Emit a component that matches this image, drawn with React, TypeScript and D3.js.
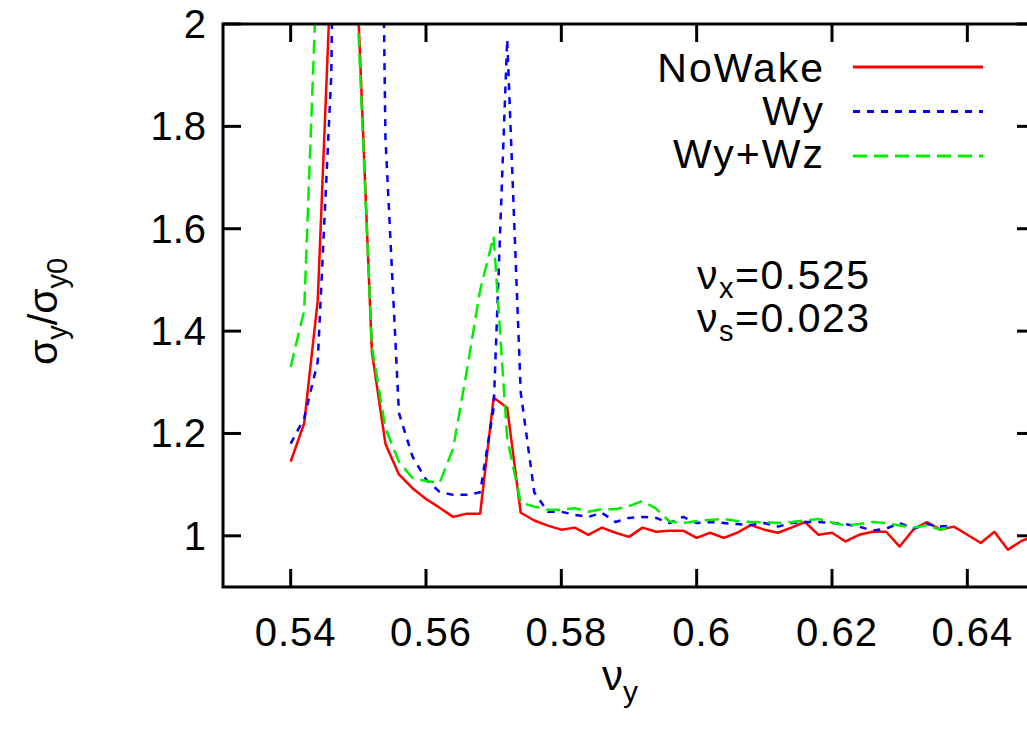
import React from 'react';
import * as d3 from 'd3';

// tune values nu_y (red series runs to 0.65, the wake runs stop at 0.638)
const nuYNoWake = [
  0.540, 0.542, 0.544, 0.546, 0.548, 0.550, 0.552, 0.554, 0.556, 0.558,
  0.560, 0.562, 0.564, 0.566, 0.568, 0.570, 0.572, 0.574, 0.576, 0.578,
  0.580, 0.582, 0.584, 0.586, 0.588, 0.590, 0.592, 0.594, 0.596, 0.598,
  0.600, 0.602, 0.604, 0.606, 0.608, 0.610, 0.612, 0.614, 0.616, 0.618,
  0.620, 0.622, 0.624, 0.626, 0.628, 0.630, 0.632, 0.634, 0.636, 0.638,
  0.640, 0.642, 0.644, 0.646, 0.648, 0.650,
];
const nuYWake = nuYNoWake.slice(0, 50);

const noWake = [
  1.145, 1.22, 1.46, 2.12, 3.5, 2.02, 1.36, 1.18, 1.12, 1.093,
  1.072, 1.055, 1.037, 1.043, 1.043, 1.27, 1.25, 1.045, 1.03, 1.02,
  1.012, 1.016, 1.002, 1.016, 1.006, 0.998, 1.016, 1.008, 1.01, 1.01,
  0.996, 1.006, 0.996, 1.006, 1.021, 1.012, 1.006, 1.016, 1.027, 1.002,
  1.006, 0.989, 1.002, 1.008, 1.008, 0.979, 1.012, 1.027, 1.012, 1.018,
  1.002, 0.986, 1.008, 0.973, 0.99, 1.0,
];
const wy = [
  1.18, 1.23, 1.34, 1.9, 4.0, 4.5, 3.9, 1.78, 1.24, 1.155,
  1.11, 1.086, 1.08, 1.08, 1.085, 1.25, 1.97, 1.28, 1.085, 1.047,
  1.047, 1.041, 1.037, 1.045, 1.027, 1.035, 1.037, 1.035, 1.025, 1.037,
  1.025, 1.027, 1.025, 1.023, 1.021, 1.025, 1.018, 1.025, 1.027, 1.027,
  1.025, 1.023, 1.018, 1.010, 1.014, 1.025, 1.014, 1.023, 1.018, 1.02,
];
const wyWz = [
  1.33, 1.44, 2.15, 3.0, 3.5, 1.99, 1.37, 1.21, 1.145, 1.113,
  1.107, 1.103, 1.17, 1.32, 1.48, 1.585, 1.19, 1.065, 1.057, 1.051,
  1.051, 1.054, 1.047, 1.052, 1.052, 1.058, 1.068, 1.053, 1.028, 1.025,
  1.029, 1.031, 1.033, 1.029, 1.027, 1.027, 1.025, 1.027, 1.03, 1.033,
  1.026, 1.02, 1.023, 1.027, 1.025, 1.02, 1.016, 1.02, 1.012, 1.02,
];

const xTicks = [0.54, 0.56, 0.58, 0.6, 0.62, 0.64];
const yTicks = [1, 1.2, 1.4, 1.6, 1.8, 2];

const seriesNames = ['NoWake', 'Wy', 'Wy+Wz'];
const seriesColors = ['#ff0000', '#0000ff', '#00ee00'];
const seriesDash = ['none', '7,7', '14,7'];

const W = 1027;
const H = 731;
const left = 223;
const right = 1035;
const top = 24;
const bottom = 587;
const font = '"Liberation Sans", Arial, Helvetica, sans-serif';
const tickLen = 18;

const App = () => {
  const x = d3.scaleLinear().domain([0.53, 0.65]).range([left, right]);
  const y = d3.scaleLinear().domain([0.9, 2]).range([bottom, top]);

  const line = d3.line<[number, number]>()
    .x(d => x(d[0]))
    .y(d => y(d[1]));

  const series = [
    d3.zip(nuYNoWake, noWake) as [number, number][],
    d3.zip(nuYWake, wy) as [number, number][],
    d3.zip(nuYWake, wyWz) as [number, number][],
  ];

  return (
    <div style={{ position: 'absolute', left: 0, top: 0, width: W, height: H, overflow: 'hidden' }}>
      <svg width={W} height={H} style={{ display: 'block', background: '#fff' }} fontFamily={font}>
        <defs>
          <clipPath id="plot-clip">
            <rect x={left} y={top} width={right - left} height={bottom - top} />
          </clipPath>
        </defs>

        {/* ticks, mirrored on all four sides */}
        <g stroke="#000" strokeWidth={3}>
          {xTicks.map(t => (
            <g key={'xt' + t}>
              <line x1={x(t)} x2={x(t)} y1={bottom} y2={bottom - tickLen} />
              <line x1={x(t)} x2={x(t)} y1={top} y2={top + tickLen} />
            </g>
          ))}
          {yTicks.map(t => (
            <g key={'yt' + t}>
              <line x1={left} x2={left + tickLen} y1={y(t)} y2={y(t)} />
              <line x1={right} x2={right - tickLen} y1={y(t)} y2={y(t)} />
            </g>
          ))}
        </g>

        {/* tick labels */}
        <g fontSize={40} fill="#000">
          {xTicks.map(t => (
            <text key={'xl' + t} x={x(t) + 5} y={646} textAnchor="middle" letterSpacing={1}>{String(t)}</text>
          ))}
          {yTicks.map(t => (
            <text key={'yl' + t} x={206} y={y(t) + 14} textAnchor="end">{String(t)}</text>
          ))}
        </g>

        {/* data */}
        <g clipPath="url(#plot-clip)" fill="none">
          {series.map((s, i) => (
            <path key={seriesNames[i]} d={line(s) || ''} stroke={seriesColors[i]}
              strokeWidth={2.5} strokeDasharray={seriesDash[i]} strokeLinejoin="round" />
          ))}
        </g>

        {/* frame */}
        <rect x={left} y={top} width={right - left} height={bottom - top}
          fill="none" stroke="#000" strokeWidth={3} />

        {/* legend */}
        <g fontSize={41} letterSpacing={2}>
          {seriesNames.map((n, i) => (
            <g key={'lg' + n}>
              <text x={825} y={82 + i * 43} textAnchor="end">{n}</text>
              <line x1={853} x2={983} y1={67 + i * 44.5} y2={67 + i * 44.5}
                stroke={seriesColors[i]} strokeWidth={3} strokeDasharray={seriesDash[i]} />
            </g>
          ))}
        </g>

        {/* annotation */}
        <g fontSize={41} letterSpacing={1.5}>
          <text x={697} y={289}>ν<tspan dy={9} fontSize={29}>x</tspan><tspan dy={-9}>=0.525</tspan></text>
          <text x={697} y={332}>ν<tspan dy={9} fontSize={29}>s</tspan><tspan dy={-9}>=0.023</tspan></text>
        </g>

        {/* axis titles */}
        <text x={602} y={690} fontSize={42}>ν<tspan dy={12} fontSize={30}>y</tspan></text>
        <text transform="translate(57,365) rotate(-90)" fontSize={41}>
          σ<tspan dy={10} fontSize={29}>y</tspan><tspan dy={-10}>/σ</tspan><tspan dy={10} fontSize={29}>y0</tspan>
        </text>
      </svg>
    </div>
  );
};

export default App;
